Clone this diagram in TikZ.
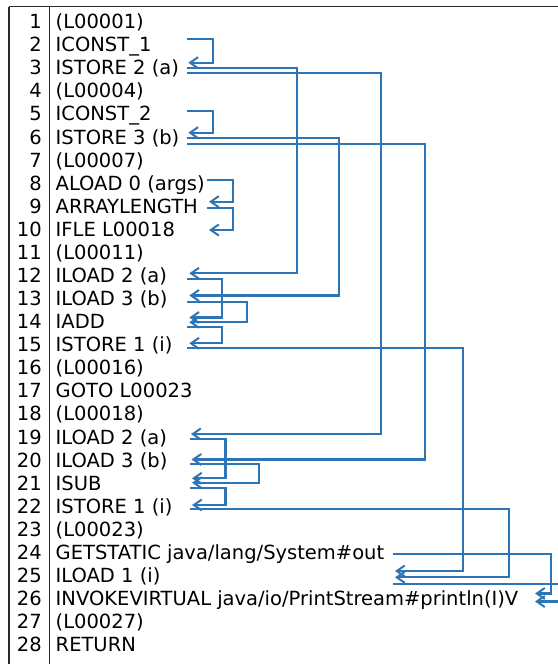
\documentclass[tikz,border=0pt]{standalone}
\usepackage{fontspec}
\setmainfont{DejaVu Sans}
\usetikzlibrary{arrows.meta}
\definecolor{flowblue}{HTML}{2E75B6}
\definecolor{rulegray}{HTML}{2A2A2A}
\begin{document}
\begin{tikzpicture}[x=1pt,y=-1pt,
  code/.style={anchor=base west,inner sep=0pt,font=\fontsize{19.5}{23}\selectfont},
  lineno/.style={anchor=base east,inner sep=0pt,font=\fontsize{19.5}{23}\selectfont},
  grid/.style={draw=rulegray,line width=1.4pt},
  flow/.style={draw=flowblue,line width=2.1pt,
    -{Straight Barb[length=8pt,width=11pt,line width=2pt]}}]
\useasboundingbox (0,0) rectangle (557,664);
% table rules
\draw[grid] (9,6.7) -- (570,6.7);
\draw[grid] (9,6.7) -- (9,680);
\draw[grid] (49.3,6.7) -- (49.3,680);
% listing rows
\foreach \t [count=\i] in {
  {(L00001)},{ICONST\_1},{ISTORE 2 (a)},{(L00004)},{ICONST\_2},{ISTORE 3 (b)},
  {(L00007)},{ALOAD 0 (args)},{ARRAYLENGTH},{IFLE L00018},{(L00011)},
  {ILOAD 2 (a)},{ILOAD 3 (b)},{IADD},{ISTORE 1 (i)},{(L00016)},{GOTO L00023},
  {(L00018)},{ILOAD 2 (a)},{ILOAD 3 (b)},{ISUB},{ISTORE 1 (i)},{(L00023)},
  {GETSTATIC java/lang/System\#out},{ILOAD 1 (i)},
  {INVOKEVIRTUAL java/io/PrintStream\#println(I)V},{(L00027)},{RETURN}}{
  \pgfmathsetmacro\yb{28.6+23.08*(\i-1)}
  \node[lineno] (n\i) at (42,\yb) {\i};
  \node[code] (r\i) at (55.5,\yb) {\t};
}
% ports: o = outgoing start, i = arrow tip
\coordinate (o2) at (186.7,39.3);   \coordinate (i3) at (188.3,62.7);
\coordinate (o3a) at (186.7,68.3);  \coordinate (o3b) at (186.7,73.3);
\coordinate (o5) at (186.7,110.7);  \coordinate (i6) at (188.3,132.7);
\coordinate (o6a) at (186.7,137.7); \coordinate (o6b) at (186.7,144);
\coordinate (o8) at (207.3,180);    \coordinate (i9) at (209,201.7);
\coordinate (o9) at (207.3,207.7);  \coordinate (i10) at (209,230);
\coordinate (i12) at (189.3,273.3); \coordinate (o12) at (187,279.3);
\coordinate (i13) at (189.3,295.5); \coordinate (o13) at (187,302.3);
\coordinate (i14a) at (189.3,317.5);\coordinate (i14b) at (189.3,322.3);
\coordinate (o14) at (187,326.7);   \coordinate (i15) at (189.3,343.3);
\coordinate (o15) at (187,348);
\coordinate (i19) at (191,434);     \coordinate (o19) at (190,439);
\coordinate (i20) at (191.5,459.5); \coordinate (o20) at (190,464.3);
\coordinate (i21a) at (192,478.3);  \coordinate (i21b) at (192,482.7);
\coordinate (o21) at (190,488.3);   \coordinate (i22) at (192,505);
\coordinate (o22) at (190,509.3);
\coordinate (o24) at (392.7,554.3);
\coordinate (i25a) at (395,571);    \coordinate (i25b) at (395,577.3);
\coordinate (o25) at (392.7,584);
\coordinate (i26a) at (535,593.5);  \coordinate (i26b) at (535,601.5);
% data flow connectors
\draw[flow] (o2) -- ++(26.6,0) |- (i3);
\draw[flow] (o5) -- ++(26.6,0) |- (i6);
\draw[flow] (o8) -- ++(26,0) |- (i9);
\draw[flow] (o9) -- ++(26,0) |- (i10);
\draw[flow] (o3a) -- (296.7,68.3) |- (i12);
\draw[flow] (o3b) -- (380.7,73.3) |- (i19);
\draw[flow] (o6a) -- (339,137.7) |- (i13);
\draw[flow] (o6b) -- (425,144) |- (i20);
\draw[flow] (o12) -- (222.3,279.3) |- (i14a);
\draw[flow] (o13) -- (246.7,302.3) |- (i14b);
\draw[flow] (o14) -- (222.3,326.7) |- (i15);
\draw[flow] (o15) -- (463.3,348) |- (i25a);
\draw[flow] (o19) -- (225.5,439) |- (i21a);
\draw[flow] (o20) -- (259,464.3) |- (i21b);
\draw[flow] (o21) -- (225.5,488.3) |- (i22);
\draw[flow] (o22) -- (508.7,509.3) |- (i25b);
\draw[flow] (o24) -- (550.7,554.3) |- (i26a);
\draw[flow] (o25) -- (559.5,584) |- (i26b);
\end{tikzpicture}
\end{document}
